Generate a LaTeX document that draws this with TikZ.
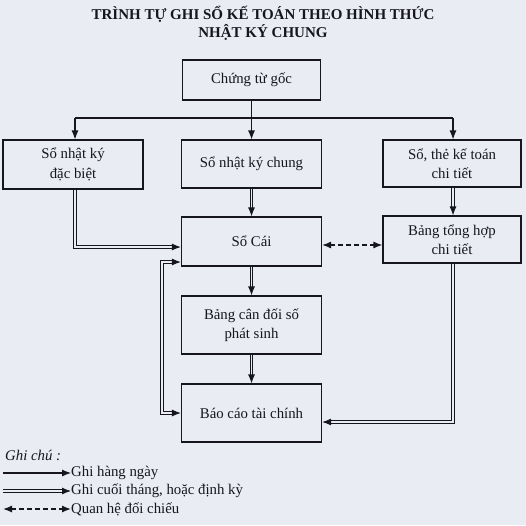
\documentclass[tikz,border=0pt]{standalone}
\usepackage{fontspec}
\setmainfont{Liberation Serif}
\usetikzlibrary{arrows.meta}
\definecolor{bg}{RGB}{233,236,243}
\definecolor{ink}{RGB}{22,22,28}
\begin{document}
\begin{tikzpicture}[x=1pt,y=-1pt,
  box/.style={draw=ink, line width=1.1pt, rectangle, inner sep=0pt, align=center,
    font=\fontsize{14.8}{19.5}\selectfont, text=ink},
  daily/.style={draw=ink, line width=1.1pt, -{Latex[length=9pt,width=7pt]}},
  plain/.style={draw=ink, line width=1.1pt},
  period/.style={draw=ink, line width=1.1pt, double=bg, double distance=1.6pt,
    -{Latex[length=9pt,width=7pt]}},
  periodboth/.style={draw=ink, line width=1.1pt, double=bg, double distance=1.6pt,
    {Latex[length=9pt,width=7pt]}-{Latex[length=9pt,width=7pt]}},
  cross/.style={draw=ink, line width=1.3pt, dash pattern=on 4.5pt off 3.5pt,
    {Latex[length=9pt,width=7pt]}-{Latex[length=9pt,width=7pt]}},
  legend/.style={anchor=west, inner sep=0pt, font=\fontsize{14.8}{17}\selectfont, text=ink}
]
\fill[bg] (0,0) rectangle (526,525);
\useasboundingbox (0,0) rectangle (526,525);

\node[font=\fontsize{15}{18}\selectfont\bfseries, align=center, text=ink] (title) at (263,23)
  {TRÌNH TỰ GHI SỔ KẾ TOÁN THEO HÌNH THỨC\\NHẬT KÝ CHUNG};

\node[box, minimum width=138pt, minimum height=40pt] (cg) at (251.5,80) {Chứng từ gốc};
\node[box, minimum width=140pt, minimum height=49pt] (nkdb) at (73,164.5) {Sổ nhật ký\\đặc biệt};
\node[box, minimum width=140pt, minimum height=48pt] (nkc) at (251.5,164) {Sổ nhật ký chung};
\node[box, minimum width=138pt, minimum height=47pt] (st) at (452,163.5) {Sổ, thẻ kế toán\\chi tiết};
\node[box, minimum width=140pt, minimum height=49pt] (sc) at (251.5,241.5) {Sổ Cái};
\node[box, minimum width=138pt, minimum height=47pt] (bth) at (452,239.5) {Bảng tổng hợp\\chi tiết};
\node[box, minimum width=140pt, minimum height=58pt] (bcd) at (251.5,325) {Bảng cân đối số\\phát sinh};
\node[box, minimum width=140pt, minimum height=58pt] (bctc) at (251.5,413) {Báo cáo tài chính};

\coordinate (jl) at (75,118);
\coordinate (jr) at (453,118);
\draw[plain] (jl) -- (jr);
\draw[daily] (cg.south) -- (nkc.north);
\draw[daily] (jl) -- (nkdb.north -| jl);
\draw[daily] (jr) -- (st.north -| jr);

\draw[period] (nkdb.south -| jl) |- ([yshift=-5.5pt]sc.west);
\draw[period] (nkc.south) -- (sc.north);
\draw[period] (st.south -| jr) -- (bth.north -| jr);
\draw[cross] ([yshift=-3.5pt]sc.east) -- ([yshift=-3.5pt]sc.east -| bth.west);
\draw[period] (sc.south) -- (bcd.north);
\draw[period] (bcd.south) -- (bctc.north);
\draw[periodboth] ([yshift=-20.5pt]sc.west) -| ([xshift=-19pt]bctc.west) -- (bctc.west);
\draw[period] (bth.south -| jr) |- ([yshift=-9pt]bctc.east);

\node[legend, font=\fontsize{14.8}{17}\selectfont\itshape] (gc) at (5,455) {Ghi chú :};
\coordinate (l1) at (3,473);
\coordinate (l2) at (3,491);
\coordinate (l3) at (3,509);
\node[legend] (t1) at (71,473) {Ghi hàng ngày};
\node[legend] (t2) at (71,491) {Ghi cuối tháng, hoặc định kỳ};
\node[legend] (t3) at (71,509) {Quan hệ đối chiếu};
\draw[daily] (l1) -- (l1 -| t1.west);
\draw[period] (l2) -- (l2 -| t2.west);
\draw[cross] (l3) -- (l3 -| t3.west);
\end{tikzpicture}
\end{document}
